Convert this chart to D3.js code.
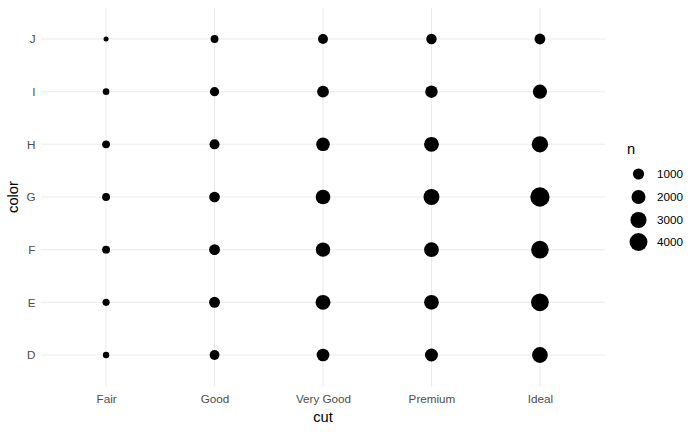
<!DOCTYPE html>
<html><head><meta charset="utf-8">
<script src="https://cdn.jsdelivr.net/npm/d3@7"></script>
<style>body{margin:0;background:#fff}svg{display:block;font-family:"Liberation Sans",Arial,sans-serif}</style>
</head><body>
<svg id="c" width="700" height="432"></svg>
<script>
const cuts = ["Fair","Good","Very Good","Premium","Ideal"];
const colors = ["D","E","F","G","H","I","J"];
// counts per cut, in order of colors D..J
const fair     = [163, 224, 312, 314, 303, 175, 119];
const good     = [662, 933, 909, 871, 702, 522, 307];
const veryGood = [1513, 2400, 2164, 2299, 1824, 1204, 678];
const premium  = [1603, 2337, 2331, 2924, 2360, 1428, 808];
const ideal    = [2834, 3903, 3826, 4884, 3115, 2093, 896];
const legendBreaks = [1000, 2000, 3000, 4000];

const series = [fair, good, veryGood, premium, ideal];
const data = [];
cuts.forEach((c, i) => colors.forEach((col, j) => data.push({cut: c, color: col, n: series[i][j]})));

const svg = d3.select("#c");
const pL = 41, pR = 605, pT = 7.4, pB = 386.6;

const x = d3.scalePoint().domain(cuts).range([pL, pR]).padding(0.6);
const y = d3.scalePoint().domain(colors).range([pB, pT]).padding(0.6);

const nExt = d3.extent(data, d => d.n);
const norm = d3.scaleLinear().domain(nExt).range([0, 1]).clamp(true);
const sizeMM = d3.scaleLinear().domain([0, 1]).range([1, 6]);
const radius = n => (2.845 * sizeMM(Math.sqrt(norm(n))) + 2.205) / 2;

// grid
svg.append("g").selectAll("line").data(cuts).join("line")
  .attr("x1", d => x(d)).attr("x2", d => x(d)).attr("y1", pT).attr("y2", pB)
  .attr("stroke", "#EBEBEB").attr("stroke-width", 1.07);
svg.append("g").selectAll("line").data(colors).join("line")
  .attr("y1", d => y(d)).attr("y2", d => y(d)).attr("x1", pL).attr("x2", pR)
  .attr("stroke", "#EBEBEB").attr("stroke-width", 1.07);

// points
svg.append("g").selectAll("circle").data(data).join("circle")
  .attr("cx", d => x(d.cut)).attr("cy", d => y(d.color)).attr("r", d => radius(d.n))
  .attr("fill", "#000");

// axes
const xAxis = svg.append("g").attr("transform", `translate(0,${pB})`)
  .call(d3.axisBottom(x).tickSize(0).tickPadding(8));
xAxis.select(".domain").remove();
xAxis.selectAll("text").attr("fill", "#4D4D4D").attr("font-size", "11.7px").attr("font-family", "Liberation Sans, Arial, sans-serif");

const yAxis = svg.append("g").attr("transform", `translate(${pL},0)`)
  .call(d3.axisLeft(y).tickSize(0).tickPadding(5.5));
yAxis.select(".domain").remove();
yAxis.selectAll("text").attr("fill", "#4D4D4D").attr("font-size", "11.7px").attr("font-family", "Liberation Sans, Arial, sans-serif");

svg.append("text").attr("x", (pL + pR) / 2).attr("y", 422).attr("text-anchor", "middle")
  .attr("font-size", "14.7px").attr("fill", "#000").text("cut");
svg.append("text").attr("transform", `translate(18,${(pT + pB) / 2}) rotate(-90)`)
  .attr("text-anchor", "middle").attr("font-size", "14.7px").attr("fill", "#000").text("color");

// legend
const lg = svg.append("g");
lg.append("text").attr("x", 627).attr("y", 154).attr("font-size", "14.7px").attr("fill", "#000").text("n");
const ly = [174, 197, 220, 242];
lg.selectAll("circle").data(legendBreaks).join("circle")
  .attr("cx", 638.5).attr("cy", (d, i) => ly[i]).attr("r", d => radius(d)).attr("fill", "#000");
lg.selectAll("text.lab").data(legendBreaks).join("text").attr("class", "lab")
  .attr("x", 657).attr("y", (d, i) => ly[i]).attr("dy", "0.35em")
  .attr("font-size", "11.7px").attr("fill", "#000").text(d => d);
</script>
</body></html>
